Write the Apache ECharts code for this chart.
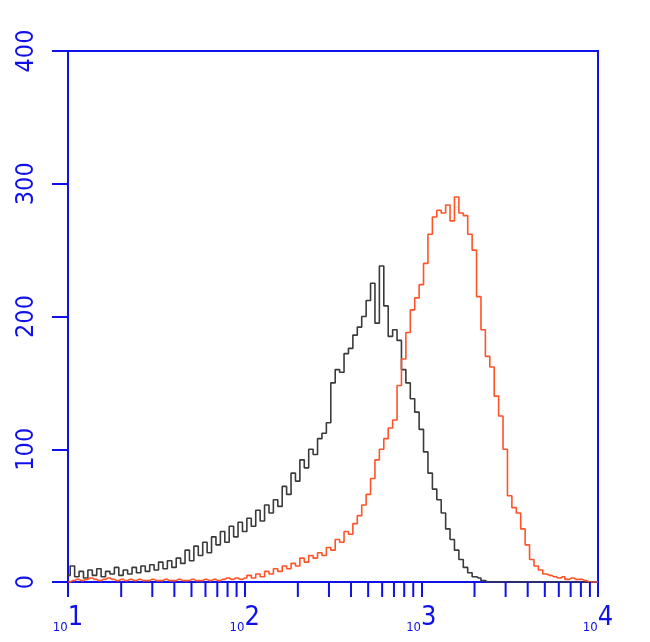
<!DOCTYPE html>
<html>
<head>
<meta charset="utf-8">
<script src="https://cdn.jsdelivr.net/npm/echarts@6/dist/echarts.min.js"></script>
<style>html,body{margin:0;padding:0;background:#fff;}#chart{width:650px;height:642px;}</style>
</head>
<body>
<div id="chart"></div>
<script>
// Channel positions (fluorescence intensity, log spaced)
const channels = [
  10.00, 10.59, 11.22, 11.89, 12.59, 13.34, 14.13, 14.96, 15.85, 16.79, 17.78, 18.84, 19.95, 21.13, 22.39, 23.71, 25.12, 26.61, 28.18, 29.85,
  31.62, 33.50, 35.48, 37.58, 39.81, 42.17, 44.67, 47.32, 50.12, 53.09, 56.23, 59.57, 63.10, 66.83, 70.79, 74.99, 79.43, 84.14, 89.13, 94.41,
  100.0, 105.9, 112.2, 118.9, 125.9, 133.4, 141.3, 149.6, 158.5, 167.9, 177.8, 188.4, 199.5, 211.3, 223.9, 237.1, 251.2, 266.1, 281.8, 298.5,
  316.2, 335.0, 354.8, 375.8, 398.1, 421.7, 446.7, 473.2, 501.2, 530.9, 562.3, 595.7, 631.0, 668.3, 707.9, 749.9, 794.3, 841.4, 891.3, 944.1,
  1000, 1059, 1122, 1189, 1259, 1334, 1413, 1496, 1585, 1679, 1778, 1884, 1995, 2113, 2239, 2371, 2512, 2661, 2818, 2985,
  3162, 3350, 3548, 3758, 3981, 4217, 4467, 4732, 5012, 5309, 5623, 5957, 6310, 6683, 7079, 7499, 7943, 8414, 8913, 9441, 10000
];
// Control (dark) histogram counts
const control = [
  5,12,4,8,3,9,5,10,4,8, 6,11,5,9,6,11,7,12,8,13,
  9,15,10,16,11,18,14,24,16,27, 20,30,22,34,28,38,30,42,34,45,
  38,48,42,54,46,58,52,62,57,72, 66,82,76,92,86,100,96,108,112,120,
  150,160,158,172,176,186,192,200,212,225, 195,238,208,185,190,182,160,150,138,128,
  115,98,82,70,62,52,40,32,24,17, 11,7,4,3,1,0,0,0,0,0,
  0,0,0,0,0,0,0,0,0,0, 0,0,0,0,0,0,0,0,0,0, 0
];
// Stained (red) histogram counts
const stained = [
  0,1,2,1,2,3,2,1,2,3, 2,1,2,1,2,1,2,1,1,2,
  1,1,2,1,1,2,1,1,2,1, 1,2,1,2,1,2,3,2,3,2,
  3,5,3,6,4,8,6,10,8,12, 10,14,12,18,15,20,18,22,20,26,
  24,32,30,38,36,44,50,58,66,78, 92,100,108,116,122,148,168,188,205,214,
  224,240,262,275,280,278,284,272,290,278, 276,262,250,215,190,170,162,140,125,100,
  65,56,52,40,28,17,12,9,6,5, 4,3,4,2,3,2,2,1,0,0, 0
];
const minorTicks = [20,30,40,50,60,70,80,90, 200,300,400,500,600,700,800,900, 2000,3000,4000,5000,6000,7000,8000,9000];
const yTicks = [0, 100, 200, 300, 400];

const BLUE = '#1010e8';
const FONT = 'DejaVu Sans Condensed, DejaVu Sans, sans-serif';
const chart = echarts.init(document.getElementById('chart'), null, {renderer: 'canvas'});
const pair = arr => channels.map((c, i) => [c, arr[i]]);

chart.setOption({
  animation: false,
  backgroundColor: '#fff',
  grid: {left: 68, right: 52, top: 51, bottom: 60, show: true, borderColor: BLUE, borderWidth: 2},
  xAxis: {
    type: 'log', logBase: 10, min: 10, max: 10000,
    axisLine: {show: true, lineStyle: {color: BLUE, width: 2}},
    axisTick: {show: true, length: 15, lineStyle: {color: BLUE, width: 2}},
    splitLine: {show: false},
    axisLabel: {
      margin: 22, color: BLUE, align: 'center',
      formatter: v => '{s|10}{b|' + Math.round(Math.log10(v)) + '}',
      rich: {
        s: {fontSize: 13, fontFamily: FONT, color: BLUE, verticalAlign: 'bottom', lineHeight: 30},
        b: {fontSize: 27, fontFamily: FONT, color: BLUE, verticalAlign: 'top', lineHeight: 30}
      }
    }
  },
  yAxis: {
    type: 'value', min: yTicks[0], max: yTicks[yTicks.length - 1], interval: 100,
    axisLine: {show: true, lineStyle: {color: BLUE, width: 2}},
    axisTick: {show: true, length: 16, lineStyle: {color: BLUE, width: 2}},
    splitLine: {show: false},
    axisLabel: {rotate: 90, margin: 29, color: BLUE, fontSize: 25, fontFamily: FONT}
  },
  series: [
    {
      type: 'line', data: pair(control), step: 'middle', showSymbol: false,
      lineStyle: {color: '#3a3a3a', width: 1.6}, z: 3
    },
    {
      type: 'line', data: pair(stained), step: 'middle', showSymbol: false,
      lineStyle: {color: '#ff5328', width: 1.6}, z: 4
    },
    {
      type: 'custom', clip: false, silent: true, z: 5,
      data: minorTicks.map(v => [v, 0]),
      encode: {x: 0, y: 1},
      renderItem: (params, api) => {
        const p = api.coord([api.value(0), api.value(1)]);
        return {type: 'line', shape: {x1: p[0], y1: p[1], x2: p[0], y2: p[1] + 15},
                style: {stroke: BLUE, lineWidth: 2}};
      }
    }
  ]
});
</script>
</body>
</html>
